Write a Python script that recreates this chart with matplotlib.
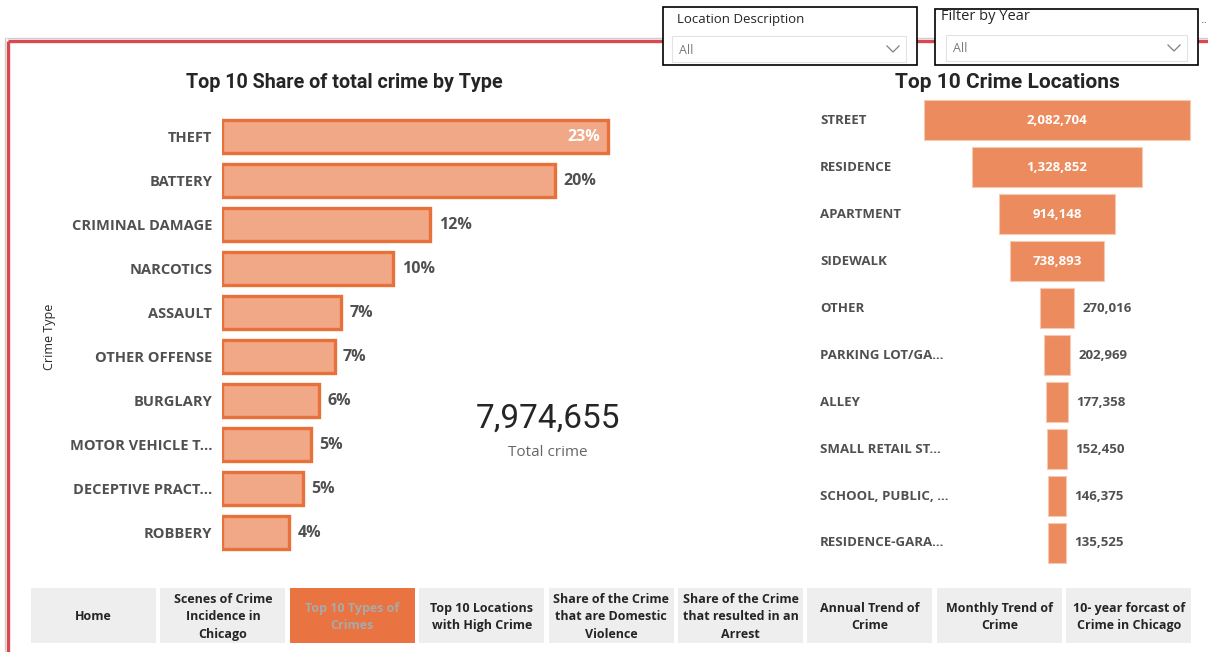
import matplotlib
matplotlib.use("Agg")
import matplotlib.pyplot as plt
from matplotlib.patches import Rectangle

# ---- data ----
crime_types = ["THEFT", "BATTERY", "CRIMINAL DAMAGE", "NARCOTICS", "ASSAULT",
               "OTHER OFFENSE", "BURGLARY", "MOTOR VEHICLE T...",
               "DECEPTIVE PRACT...", "ROBBERY"]
crime_share = [23.0, 19.8, 12.4, 10.2, 7.1, 6.7, 5.8, 5.3, 4.8, 4.0]

locations = ["STREET", "RESIDENCE", "APARTMENT", "SIDEWALK", "OTHER",
             "PARKING LOT/GA...", "ALLEY", "SMALL RETAIL ST...",
             "SCHOOL, PUBLIC, ...", "RESIDENCE-GARA..."]
location_counts = [2082704, 1328852, 914148, 738893, 270016,
                   202969, 177358, 152450, 146375, 135525]

total_crime = 7974655

nav_pages = ["Home", "Scenes of Crime\nIncidence in\nChicago", "Top 10 Types of\nCrimes",
             "Top 10 Locations\nwith High Crime",
             "Share of the Crime\nthat are Domestic\nViolence",
             "Share of the Crime\nthat resulted in an\nArrest",
             "Annual Trend of\nCrime", "Monthly Trend of\nCrime",
             "10- year forcast of\nCrime in Chicago"]
active_page = 2

# ---- styling ----
UI = "Open Sans"
HEAD = "Roboto"
LABEL_C = "#505050"
BAR_FILL = "#F0A886"
BAR_EDGE = "#E8703A"
FUNNEL_C = "#EB8B5E"

W, H = 1208, 652
fig = plt.figure(figsize=(W / 100, H / 100), dpi=100)


def px_rect(left, top, width, height):
    return [left / W, 1 - (top + height) / H, width / W, height / H]


# page canvas in pixel coordinates
bg = fig.add_axes([0, 0, 1, 1], zorder=0)
bg.set_xlim(0, W)
bg.set_ylim(H, 0)
bg.axis("off")

# report frame
bg.plot([7, W], [38, 38], color="#cfcfcf", lw=1, zorder=1)
bg.plot([5, 5], [38, H], color="#cfcfcf", lw=1, zorder=1)
bg.plot([7.5, W], [40.5, 40.5], color="#D9474F", lw=2.4, zorder=2, solid_capstyle="butt")
bg.plot([7.5, 7.5], [40.5, H], color="#D9474F", lw=2.4, zorder=2, solid_capstyle="butt")


def slicer(x0, y0, x1, y1, title, tsize, tx, ty, ix0, iy0, ix1, iy1):
    bg.add_patch(Rectangle((x0, y0), x1 - x0, y1 - y0, facecolor="white",
                           edgecolor="black", lw=1.2, zorder=5))
    bg.text(tx, ty, title, fontsize=tsize, family=UI,
            color="#252525", va="center", ha="left", zorder=6)
    bg.add_patch(Rectangle((ix0, iy0), ix1 - ix0, iy1 - iy0, facecolor="white",
                           edgecolor="#e3e3e3", lw=0.8, zorder=6))
    bg.text(ix0 + 7, (iy0 + iy1) / 2 + 1, "All", fontsize=9, family=UI,
            color="#7a7a7a", va="center", ha="left", zorder=7)
    cx = ix1 - 13
    cy = (iy0 + iy1) / 2
    bg.plot([cx - 6, cx, cx + 6], [cy - 3, cy + 3, cy - 3], color="#808080",
            lw=0.9, zorder=7)


slicer(663, 7, 917, 65, "Location Description", 9.5, 677, 19, 672, 36, 906, 62)
slicer(935, 9, 1198, 65, "Filter by Year", 10.5, 941, 17, 946, 35, 1187, 61)
bg.text(1201, 20, "..", fontsize=8, color="#606060", va="center", ha="left", zorder=6)

# ---- left: share of total crime by type ----
ax1 = fig.add_axes(px_rect(222, 115, 400, 440), zorder=3)
ax1.patch.set_alpha(0)
scale1 = 400 / 16.8
rows = list(range(len(crime_types)))
ax1.barh(rows, crime_share, height=0.75, color=BAR_FILL, edgecolor=BAR_EDGE,
         linewidth=2.4)
ax1.set_xlim(0, scale1)
ax1.set_ylim(len(crime_types) - 0.5, -0.5)
ax1.set_yticks(rows, crime_types)
ax1.tick_params(axis="y", length=0, pad=7)
for lab in ax1.get_yticklabels():
    lab.set_family(UI)
    lab.set_fontweight("bold")
    lab.set_fontsize(10.5)
    lab.set_color(LABEL_C)
ax1.set_xticks([])
for s in ax1.spines.values():
    s.set_visible(False)
top_share = max(crime_share)
for i, v in enumerate(crime_share):
    txt = f"{v:.0f}%"
    if v == top_share:
        ax1.annotate(txt, (v, i), xytext=(-6, 0), textcoords="offset points",
                     ha="right", va="center", fontsize=11.5, family=UI,
                     fontweight="bold", color="white")
    else:
        ax1.annotate(txt, (v, i), xytext=(6, 0), textcoords="offset points",
                     ha="left", va="center", fontsize=11.5, family=UI,
                     fontweight="bold", color=LABEL_C)

bg.text(344, 82, "Top 10 Share of total crime by Type", fontsize=14.2, family=HEAD,
        fontweight="bold", color="#252525", ha="center", va="center")
bg.text(50, 337, "Crime Type", fontsize=9, family=UI, color="#252525",
        rotation=90, ha="center", va="center")

# total crime card
bg.text(548, 419, f"{total_crime:,}", fontsize=24, family=HEAD, color="#252525",
        ha="center", va="center")
bg.text(548, 453, "Total crime", fontsize=11, family=UI, color="#666666",
        ha="center", va="center")

# ---- right: top crime locations funnel ----
ax2 = fig.add_axes(px_rect(906, 96.5, 302, 470), zorder=3)
ax2.patch.set_alpha(0)
scale2 = location_counts[0] / 266
half = 151 * scale2
rows2 = list(range(len(locations)))
ax2.barh(rows2, location_counts, left=[-v / 2 for v in location_counts],
         height=0.87, color=FUNNEL_C, edgecolor="#F7C9B2", linewidth=0.8)
ax2.set_xlim(-half, half)
ax2.set_ylim(len(locations) - 0.5, -0.5)
ax2.axis("off")
ymax = location_counts[0]
for i, (name, v) in enumerate(zip(locations, location_counts)):
    ax2.text(-0.285, i, name, transform=ax2.get_yaxis_transform(),
             ha="left", va="center", fontsize=9.5, family=UI,
             fontweight="bold", color=LABEL_C)
    if v / ymax > 0.3:
        ax2.text(0, i, f"{v:,}", ha="center", va="center", fontsize=9.5,
                 family=UI, fontweight="bold", color="white")
    else:
        ax2.annotate(f"{v:,}", (v / 2, i), xytext=(6, 0), textcoords="offset points",
                     ha="left", va="center", fontsize=9.5, family=UI,
                     fontweight="bold", color=LABEL_C)

bg.text(1007, 82, "Top 10 Crime Locations", fontsize=15, family=HEAD,
        fontweight="bold", color="#252525", ha="center", va="center")

# ---- navigation buttons ----
for k, page in enumerate(nav_pages):
    x0 = 31 + k * 129.4
    active = k == active_page
    bg.add_patch(Rectangle((x0, 588), 125, 55,
                           facecolor="#E97441" if active else "#EEEEEE",
                           edgecolor="none", zorder=2))
    bg.text(x0 + 62.5, 617, page, ha="center", va="center", fontsize=9,
            family=UI, fontweight="bold",
            color="#A9A9A9" if active else "#252525", linespacing=1.45, zorder=3)

fig.savefig("out.png", dpi=100)
